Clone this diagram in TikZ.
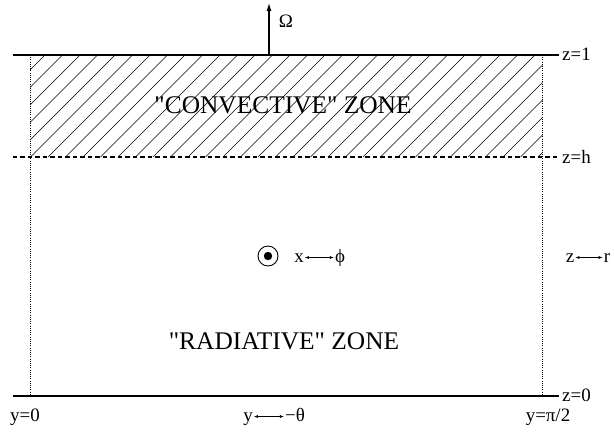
\documentclass[tikz,border=0pt]{standalone}
\usepackage{fontspec}
\setmainfont{Liberation Serif}
\usetikzlibrary{arrows.meta,positioning}

\begin{document}
\begin{tikzpicture}[
    x=1bp, y=-1bp,
    font=\fontsize{19}{22}\selectfont,
    level/.style={line width=1.3bp},
    interface/.style={line width=1.5bp, dash pattern=on 4.5bp off 3bp},
    edge/.style={line width=0.6bp, dash pattern=on 1bp off 1.2bp},
    hatch/.style={line width=0.6bp},
    zonelabel/.style={font=\fontsize{25.5}{28}\selectfont},
    sidelabel/.style={anchor=west, inner sep=0pt},
    sym/.style={anchor=base, inner sep=1pt},
    swap/.style={{Latex[length=4bp,width=3bp]}-{Latex[length=4bp,width=3bp]}, line width=0.6bp}
  ]
    \useasboundingbox (0,0) rectangle (614,432);

    % convective layer hatching
    \begin{scope}
      \clip (30,55) rectangle (542.7,157);
      \foreach \k in {-1,...,35}
        \draw[hatch] ({100+17.5*\k-157},157) -- ({100+17.5*\k-55},55);
    \end{scope}

    % side boundaries
    \draw[edge] (30,55) -- (30,396);
    \draw[edge] (542.7,55) -- (542.7,396);

    % levels
    \draw[level] (12.7,55) -- (559,55);
    \draw[interface] (12.7,157) -- (559,157);
    \draw[level] (12.7,396) -- (559,396);

    \node[sidelabel] (ztop) at (562,54) {z=1};
    \node[sidelabel] (zh) at (562,157) {z=h};
    \node[sidelabel] (zbot) at (562,395) {z=0};

    % rotation axis
    \coordinate (axisbase) at (269,55);
    \coordinate (axistip) at (269,3);
    \draw[-{Latex[length=8bp,width=5bp]}, line width=1.1bp] (axisbase) -- (axistip);
    \node (omega) at (286,21) {Ω};

    \node[zonelabel] (conv) at (283,105) {\textquotedbl CONVECTIVE\textquotedbl{} ZONE};
    \node[zonelabel] (rad) at (284,341) {\textquotedbl RADIATIVE\textquotedbl{} ZONE};

    % x axis out of the page
    \node[circle, draw, line width=0.9bp, minimum size=20bp, inner sep=0pt] (obs) at (268,256) {};
    \fill (obs.center) circle (4.2bp);
    \node[sym] (xlab) at (299,262) {x};
    \node[sym] (philab) at (340,262) {ϕ};
    \draw[swap] ([yshift=4.5bp]xlab.base east) -- ([yshift=4.5bp]philab.base west);

    \node[sym] (zlab) at (570,262) {z};
    \node[sym] (rlab) at (607,262) {r};
    \draw[swap] ([yshift=4.5bp]zlab.base east) -- ([yshift=4.5bp]rlab.base west);

    % bottom labels
    \node[sym] (yzero) at (25,421) {y=0};
    \node[sym] (ylab) at (248,421) {y};
    \node[sym] (thetalab) at (295,421) {−θ};
    \draw[swap] ([yshift=4.5bp]ylab.base east) -- ([yshift=4.5bp]thetalab.base west);
    \node[sym] (yhalf) at (548,421) {y=π/2};
  \end{tikzpicture}
\end{document}
